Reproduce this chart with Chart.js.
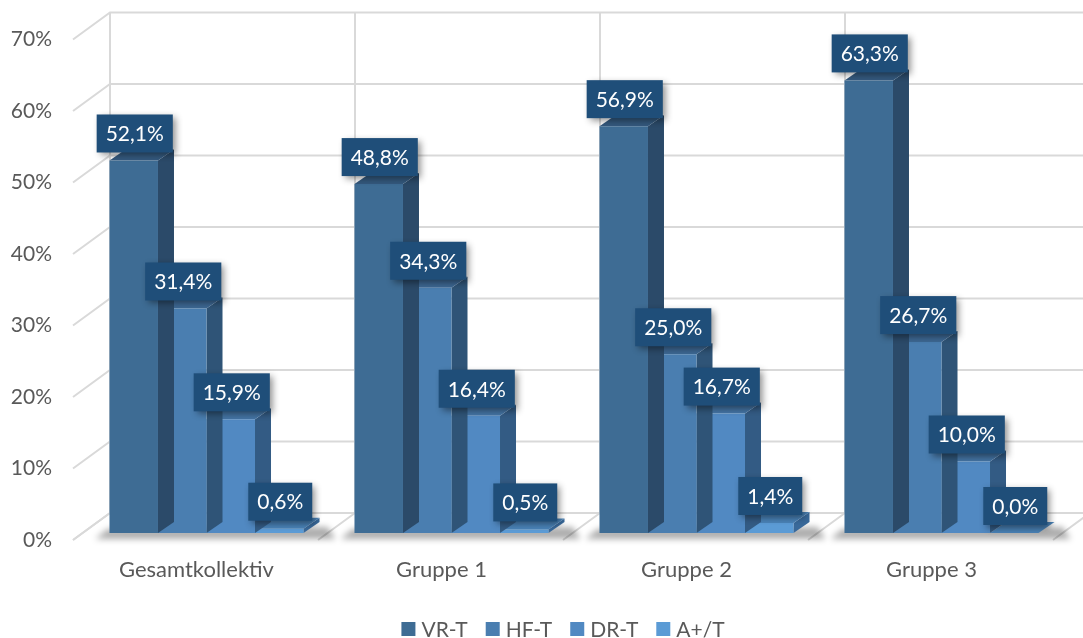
<!DOCTYPE html>
<html lang="de">
<head>
<meta charset="utf-8">
<title>Verteilung VR-T / HF-T / DR-T / A+/T</title>
<script src="https://cdn.jsdelivr.net/npm/chart.js@4.4.1/dist/chart.umd.min.js"></script>
<style>
  html, body { margin: 0; padding: 0; background: #fff; overflow: hidden; }
  #wrap { width: 1083px; height: 638px; }
</style>
</head>
<body>
<div id="wrap"><canvas id="chart" width="1083" height="638"></canvas></div>
<script>
// Gruppen und Anteile (in %)
const CATEGORIES = ['Gesamtkollektiv', 'Gruppe 1', 'Gruppe 2', 'Gruppe 3'];
const SERIES = ['VR-T', 'HF-T', 'DR-T', 'A+/T'];
const VR_T = [52.1, 48.8, 56.9, 63.3];
const HF_T = [31.4, 34.3, 25.0, 26.7];
const DR_T = [15.9, 16.4, 16.7, 10.0];
const A_T = [0.6, 0.5, 1.4, 0.0];
const Y_MAX = 70;
const Y_STEP = 10;

const FONT = 'Lato, "Open Sans", sans-serif';
const TEXT = '#595959';
const GRID = '#d9d9d9';
const LABEL_BG = '#1f4e79';

// front / side / top shading per series
const FACES = [
    { front: '#3e6c94', side: '#2b4a69', top: '#34597e' },
    { front: '#4a7eb0', side: '#2f5477', top: '#3d6893' },
    { front: '#5189c2', side: '#335b84', top: '#4474a4' },
    { front: '#5b9bd5', side: '#39699a', top: '#4a83b8' },
];

// pseudo-3D offsets
const BAR_DEPTH = { x: 16, y: -11 };
const WALL_BACK = { x: 26, y: -20 };
const WALL_FRONT = { x: -11, y: 7 };

const fmt = v => v.toFixed(1).replace('.', ',') + '%';

function poly(ctx, pts, fill) {
    ctx.beginPath();
    ctx.moveTo(pts[0][0], pts[0][1]);
    for (let i = 1; i < pts.length; i++) ctx.lineTo(pts[i][0], pts[i][1]);
    ctx.closePath();
    ctx.fillStyle = fill;
    ctx.fill();
}

// back wall, side wall and floor lines plus the soft floor shadow
const wallPlugin = {
    id: 'wall',
    beforeDatasetsDraw(chart) {
        const { ctx } = chart;
        const xs = chart.scales.x, ys = chart.scales.y;
        const n = CATEGORIES.length;
        const cw = xs.width / n;
        const base = ys.getPixelForValue(0);
        const top = ys.getPixelForValue(Y_MAX);
        ctx.save();
        ctx.strokeStyle = GRID;
        ctx.lineWidth = 2;
        ys.ticks.forEach(t => {
            const y = ys.getPixelForValue(t.value);
            ctx.beginPath();
            ctx.moveTo(xs.left + WALL_FRONT.x, y + WALL_FRONT.y);
            ctx.lineTo(xs.left + WALL_BACK.x, y + WALL_BACK.y);
            ctx.lineTo(chart.width, y + WALL_BACK.y);
            ctx.stroke();
        });
        for (let k = 0; k <= n; k++) {
            const bx = xs.left + k * cw + WALL_BACK.x;
            const fx = xs.left + k * cw + WALL_FRONT.x;
            ctx.beginPath();
            ctx.moveTo(bx, top + WALL_BACK.y);
            ctx.lineTo(bx, base + WALL_BACK.y);
            ctx.moveTo(fx, base + WALL_FRONT.y);
            ctx.lineTo(bx, base + WALL_BACK.y);
            ctx.stroke();
        }
        // floor shadow under each group
        const first = chart.getDatasetMeta(0).data;
        const last = chart.getDatasetMeta(chart.data.datasets.length - 1).data;
        ctx.filter = 'blur(3px)';
        for (let i = 0; i < n; i++) {
            const gl = first[i].x - first[i].width / 2;
            const gr = last[i].x + last[i].width / 2;
            poly(ctx, [
                [gl - 14, base + 6], [gr + BAR_DEPTH.x + 16, base + 6],
                [gr + BAR_DEPTH.x + 8, base - 6], [gl - 2, base - 4],
            ], 'rgba(0,0,0,0.32)');
        }
        ctx.restore();
    },
    // side and top faces go under each dataset's front faces
    beforeDatasetDraw(chart, args) {
        const { ctx } = chart;
        const faces = FACES[args.index];
        ctx.save();
        args.meta.data.forEach(bar => {
            const x0 = bar.x - bar.width / 2, x1 = bar.x + bar.width / 2;
            const yt = bar.y, yb = bar.base;
            const dx = BAR_DEPTH.x, dy = BAR_DEPTH.y;
            poly(ctx, [[x1, yt], [x1 + dx, yt + dy], [x1 + dx, yb + dy], [x1, yb]], faces.side);
            poly(ctx, [[x0, yt], [x1, yt], [x1 + dx, yt + dy], [x0 + dx, yt + dy]], faces.top);
        });
        ctx.restore();
    },
    // value boxes above the bars
    afterDatasetsDraw(chart) {
        const { ctx } = chart;
        ctx.save();
        ctx.font = '21px ' + FONT;
        ctx.textAlign = 'center';
        ctx.textBaseline = 'middle';
        chart.data.datasets.forEach((ds, di) => {
            chart.getDatasetMeta(di).data.forEach((bar, i) => {
                const txt = fmt(ds.data[i]);
                const w = ctx.measureText(txt).width + 18;
                const h = 38;
                const cx = bar.x + 1;
                const bottom = bar.y - 8;
                ctx.save();
                ctx.shadowColor = 'rgba(0,0,0,0.45)';
                ctx.shadowBlur = 7;
                ctx.shadowOffsetX = 3;
                ctx.shadowOffsetY = 3;
                ctx.fillStyle = LABEL_BG;
                ctx.fillRect(cx - w / 2, bottom - h, w, h);
                ctx.restore();
                ctx.fillStyle = '#ffffff';
                ctx.fillText(txt, cx, bottom - h / 2 + 1);
            });
        });
        ctx.restore();
    },
    // legend row at the bottom
    afterDraw(chart) {
        const { ctx } = chart;
        ctx.save();
        ctx.font = '21px ' + FONT;
        ctx.textBaseline = 'middle';
        ctx.textAlign = 'left';
        const box = 14, gap = 6, spacing = 18;
        const widths = SERIES.map(s => box + gap + ctx.measureText(s).width);
        const total = widths.reduce((a, b) => a + b, 0) + spacing * (SERIES.length - 1);
        let x = 563 - total / 2;
        const y = 629;
        SERIES.forEach((s, i) => {
            ctx.fillStyle = FACES[i].front;
            ctx.fillRect(x, y - box / 2, box, box);
            ctx.fillStyle = TEXT;
            ctx.fillText(s, x + box + gap, y + 1);
            x += widths[i] + spacing;
        });
        ctx.restore();
    },
};

new Chart(document.getElementById('chart'), {
    type: 'bar',
    data: {
        labels: CATEGORIES,
        datasets: [VR_T, HF_T, DR_T, A_T].map((values, i) => ({
            label: SERIES[i],
            data: values,
            backgroundColor: FACES[i].front,
            borderWidth: 0,
            categoryPercentage: 0.792,
            barPercentage: 1,
        })),
    },
    options: {
        responsive: false,
        animation: false,
        layout: { padding: { top: 32.5, right: 19, bottom: 0, left: 0 } },
        plugins: { legend: { display: false }, tooltip: { enabled: false } },
        scales: {
            x: {
                grid: { display: false, drawTicks: false },
                border: { display: false },
                ticks: { color: TEXT, font: { family: FONT, size: 22 }, labelOffset: -10, padding: 24 },
                afterFit: s => { s.height = 105; s.paddingLeft = 0; s.paddingRight = 0; },
            },
            y: {
                min: 0,
                max: Y_MAX,
                grid: { display: false, drawTicks: false },
                border: { display: false },
                ticks: {
                    stepSize: Y_STEP,
                    color: TEXT,
                    font: { family: FONT, size: 21 },
                    padding: 32,
                    labelOffset: 7,
                    callback: v => v + '%',
                },
                afterFit: s => { s.width = 84; s.paddingTop = 0; s.paddingBottom = 0; },
            },
        },
    },
    plugins: [wallPlugin],
});
</script>
</body>
</html>
